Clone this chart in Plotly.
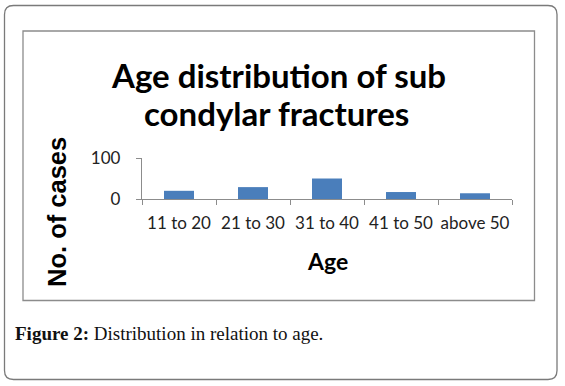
import plotly.graph_objects as go

categories = ["11 to 20", "21 to 30", "31 to 40", "41 to 50", "above 50"]
cases = [20, 29, 50, 17, 14]
y_ticks = [0, 100]
title_line1 = "Age distribution of sub"
title_line2 = "condylar fractures"
y_title = "No. of cases"
x_title = "Age"
caption = "<b>Figure 2:</b> Distribution in relation to age."

W, H = 565, 386
L, R, T, B = 142, 512, 158, 199  # plot area in pixels


def px(x):
    return (x - L) / (R - L)


def py(y):
    return (B - y) / (B - T)


def rounded_rect(x0, y0, x1, y1, r):
    pts = [
        f"M {px(x0 + r)},{py(y0)}",
        f"L {px(x1 - r)},{py(y0)}",
        f"Q {px(x1)},{py(y0)} {px(x1)},{py(y0 + r)}",
        f"L {px(x1)},{py(y1 - r)}",
        f"Q {px(x1)},{py(y1)} {px(x1 - r)},{py(y1)}",
        f"L {px(x0 + r)},{py(y1)}",
        f"Q {px(x0)},{py(y1)} {px(x0)},{py(y1 - r)}",
        f"L {px(x0)},{py(y0 + r)}",
        f"Q {px(x0)},{py(y0)} {px(x0 + r)},{py(y0)}",
        "Z",
    ]
    return " ".join(pts)


fig = go.Figure(
    go.Bar(x=categories, y=cases, marker=dict(color="#4A7EBB", line=dict(width=0)))
)

shapes = [
    dict(type="path", xref="paper", yref="paper", path=rounded_rect(4.5, 5.5, 557, 379.5, 9),
         line=dict(color="#7a7a7a", width=1.3), layer="below"),
    dict(type="rect", xref="paper", yref="paper", x0=px(23), y0=py(31), x1=px(534.5), y1=py(300.5),
         line=dict(color="#8c8c8c", width=1.3), layer="below"),
]

annotations = [
    dict(text=f"<b>{title_line1}</b>", x=px(278.5), y=py(75), xref="paper", yref="paper",
         showarrow=False, xanchor="center", yanchor="middle",
         font=dict(family="Lato", size=33, color="#000")),
    dict(text=f"<b>{title_line2}</b>", x=px(276.5), y=py(113), xref="paper", yref="paper",
         showarrow=False, xanchor="center", yanchor="middle",
         font=dict(family="Lato", size=33, color="#000")),
    dict(text=f"<b>{y_title}</b>", x=px(57), y=py(212), xref="paper", yref="paper",
         showarrow=False, textangle=-90, xanchor="center", yanchor="middle",
         font=dict(family="Liberation Sans", size=25.5, color="#000")),
    dict(text=f"<b>{x_title}</b>", x=px(327), y=py(261), xref="paper", yref="paper",
         showarrow=False, xanchor="center", yanchor="middle",
         font=dict(family="Lato", size=23, color="#000")),
    dict(text=caption, x=px(13), y=py(333), xref="paper", yref="paper",
         showarrow=False, xanchor="left", yanchor="middle",
         font=dict(family="Liberation Serif", size=19, color="#111")),
]

fig.update_layout(
    width=W, height=H,
    margin=dict(l=L, r=W - R, t=T, b=H - B, pad=0),
    paper_bgcolor="white", plot_bgcolor="white",
    showlegend=False,
    bargap=0.595,
    shapes=shapes,
    annotations=annotations,
    xaxis=dict(
        type="category", showline=True, linecolor="#8c8c8c", linewidth=1.3,
        ticks="outside", tickson="boundaries", ticklen=5, tickcolor="#8c8c8c", tickwidth=1.3,
        showgrid=False, ticklabelstandoff=8, tickangle=0, automargin=False,
        tickfont=dict(family="Lato", size=17, color="#222"),
    ),
    yaxis=dict(
        range=[0, 100], tickvals=y_ticks, showline=True, linecolor="#8c8c8c", linewidth=1.3,
        ticks="outside", ticklen=5, tickcolor="#8c8c8c", tickwidth=1.3,
        showgrid=True, gridcolor="#8c8c8c", gridwidth=1.3, zeroline=False,
        ticklabelstandoff=12, automargin=False,
        tickfont=dict(family="Lato", size=17, color="#222"),
    ),
)

fig.write_html("out.html", config={"displayModeBar": False},
               post_script="document.body.style.margin='0px';")
